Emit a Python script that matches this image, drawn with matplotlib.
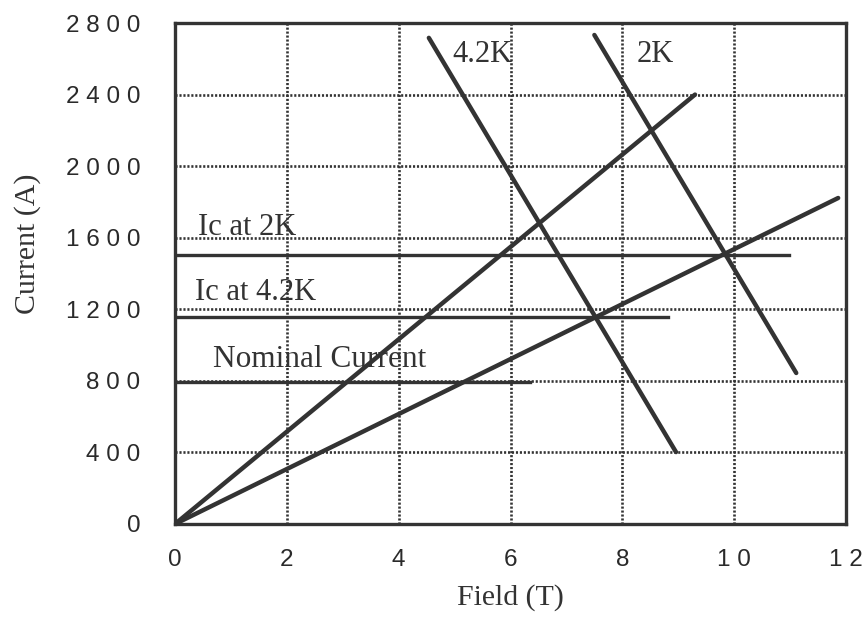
import matplotlib
matplotlib.use("Agg")
from matplotlib import pyplot as plt

# load lines (from origin)
load1_field = [0, 9.30]
load1_current = [0, 2400]
load2_field = [0, 11.86]
load2_current = [0, 1822]

# critical current lines
crit42_field = [4.54, 8.96]
crit42_current = [2717, 402]
crit2_field = [7.50, 11.11]
crit2_current = [2733, 844]

# horizontal levels
ic2k_field = [0, 10.98]
ic2k_current = [1505, 1505]
ic42_field = [0, 8.82]
ic42_current = [1155, 1155]
nominal_field = [0, 6.35]
nominal_current = [795, 795]

xticks = [0, 2, 4, 6, 8, 10, 12]
yticks = [0, 400, 800, 1200, 1600, 2000, 2400, 2800]

ink = '#333333'
serif = 'Liberation Serif'
sans = 'Liberation Sans'

fig = plt.figure(figsize=(8.65, 6.17), dpi=100)
ax = fig.add_axes([175/865, 1-524/617, (846-175)/865, (524-23)/617])

ax.set_xlim(0, 12)
ax.set_ylim(0, 2800)

# dotted grid
for x in xticks[1:-1]:
    ax.axvline(x, color=ink, lw=1.9, ls=(0, (0.8, 0.7)), zorder=1)
for y in yticks[1:-1]:
    ax.axhline(y, color=ink, lw=1.9, ls=(0, (0.8, 0.7)), zorder=1)

ax.plot(load1_field, load1_current, color=ink, lw=3.2, solid_capstyle='round', zorder=3)
ax.plot(load2_field, load2_current, color=ink, lw=3.2, solid_capstyle='round', zorder=3)
ax.plot(crit42_field, crit42_current, color=ink, lw=3.2, solid_capstyle='round', zorder=3)
ax.plot(crit2_field, crit2_current, color=ink, lw=3.2, solid_capstyle='round', zorder=3)
ax.plot(ic2k_field, ic2k_current, color=ink, lw=2.4, zorder=2)
ax.plot(ic42_field, ic42_current, color=ink, lw=2.4, zorder=2)
ax.plot(nominal_field, nominal_current, color=ink, lw=2.4, zorder=2)

ax.text(4.96, 2582, '4.2K', family=serif, fontsize=22, color=ink, ha='left', va='baseline')
ax.text(8.26, 2582, '2K', family=serif, fontsize=22, color=ink, ha='left', va='baseline')
ax.text(0.41, 1615, 'Ic at 2K', family=serif, fontsize=22, color=ink, ha='left', va='baseline')
ax.text(0.36, 1252, 'Ic at 4.2K', family=serif, fontsize=22, color=ink, ha='left', va='baseline')
ax.text(0.68, 877, 'Nominal Current', family=serif, fontsize=22.5, color=ink, ha='left', va='baseline')

ax.set_xticks(xticks)
ax.set_yticks(yticks)
ax.set_xticklabels([' '.join(str(v)) for v in xticks], family=sans, fontsize=17.5, color='#2a2a2a')
ax.set_yticklabels([' '.join(str(v)) for v in yticks], family=sans, fontsize=17.5, color='#2a2a2a')
ax.tick_params(axis='x', length=0, pad=18)
ax.tick_params(axis='y', length=0, pad=25)

for s in ax.spines.values():
    s.set_linewidth(2.4)
    s.set_color(ink)

fig.text(28/865, 1-244/617, 'Current (A)', family=serif, fontsize=21.5, color=ink,
         rotation=90, ha='center', va='center')
fig.text(510/865, 1-598/617, 'Field (T)', family=serif, fontsize=21.5, color=ink,
         ha='center', va='center')

fig.savefig('out.png', dpi=100)
